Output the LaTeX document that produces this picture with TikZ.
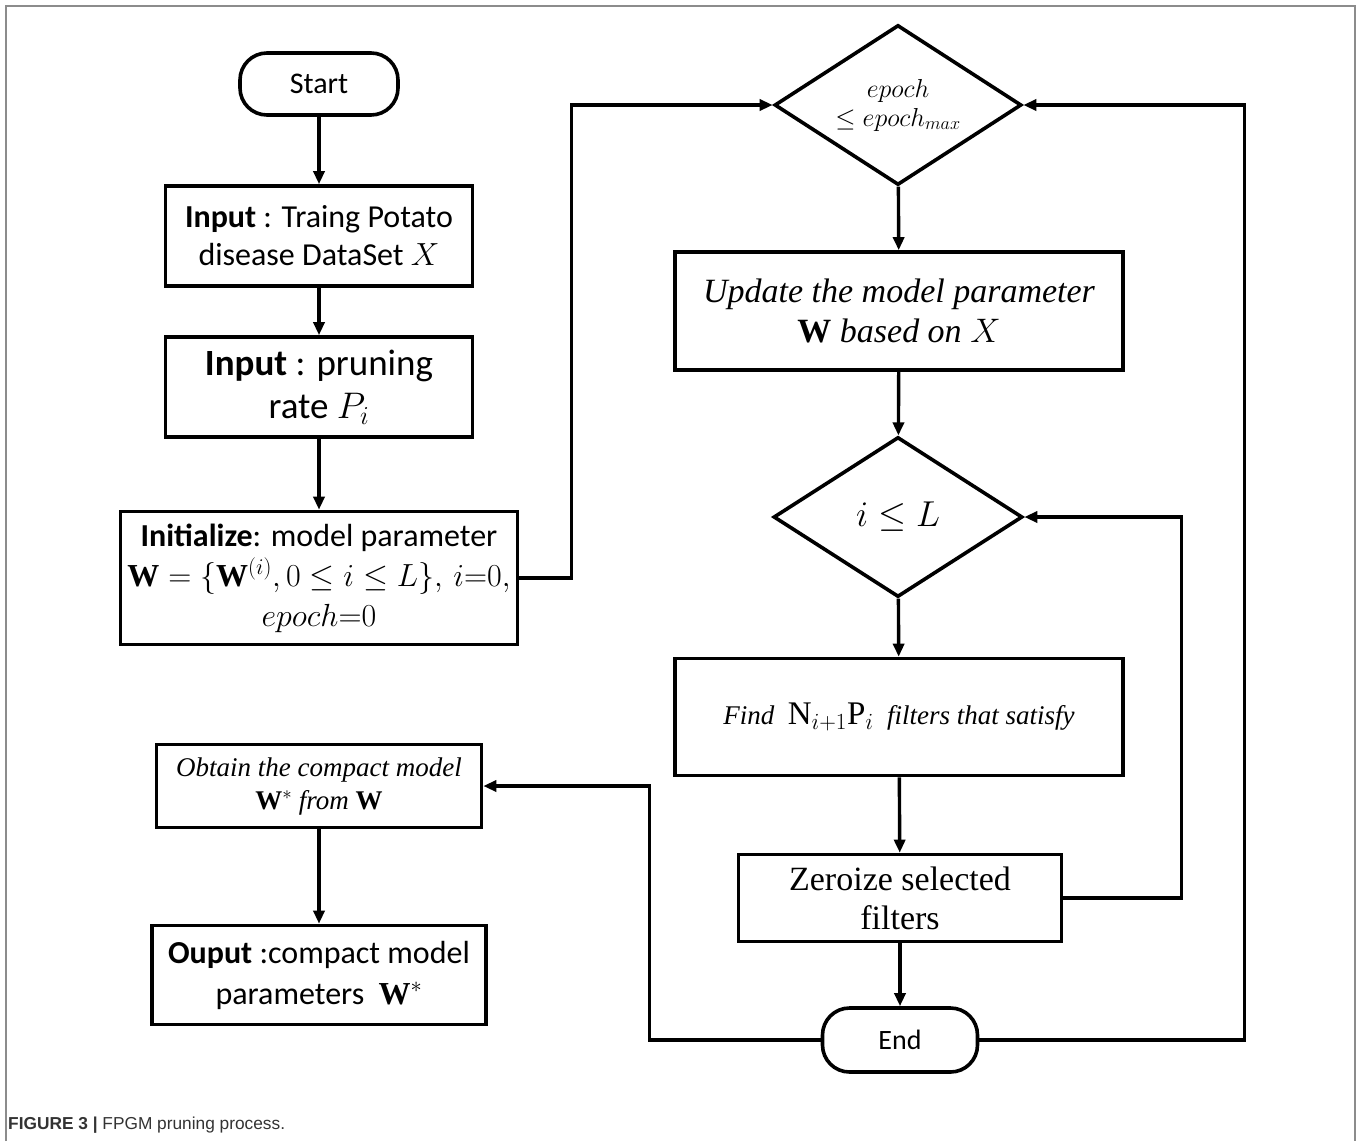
\RequirePackage{fix-cm}
\documentclass[tikz,border=0pt]{standalone}
\usepackage{fontspec}
\setmainfont{Carlito}
\setmathrm{Liberation Serif}
\newfontfamily\seriffont{Liberation Serif}
\newfontfamily\capfont{Liberation Sans}
\usetikzlibrary{arrows.meta,shapes.geometric}

\begin{document}
\begin{tikzpicture}[x=1pt,y=-1pt,
  box/.style={draw,line width=3.6pt,rectangle,align=center,inner sep=0pt},
  term/.style={draw,line width=3.6pt,rectangle,rounded corners=27pt,align=center,inner sep=0pt},
  dec/.style={draw,line width=3.6pt,diamond,aspect=1.55,align=center,inner sep=0pt},
  conn/.style={line width=3.4pt,-{Triangle[length=13pt,width=11pt]}},
  frame/.style={draw=black!45,line width=1.6pt},
]
\useasboundingbox (0,0) rectangle (1360,1141);

% outer frame of the figure
\draw[frame] (6,1141) -- (6,6) -- (1355,6) -- (1355,1141);

% left column
\node[term,minimum width=158pt,minimum height=62pt,font={\fontsize{30}{36}\selectfont}] (start) at (319,84)
  {Start};
\node[box,minimum width=307pt,minimum height=100pt,font={\fontsize{32}{38}\selectfont}] (in1) at (319,236)
  {\textbf{Input} : Traing Potato\\ disease DataSet $X$};
\node[box,minimum width=307pt,minimum height=100pt,font={\fontsize{37}{43}\selectfont}] (in2) at (319,387)
  {\textbf{Input} : pruning\\ rate $P_i$};
\node[box,minimum width=397pt,minimum height=133pt,font={\fontsize{32}{40}\selectfont}] (init) at (319,578)
  {\textbf{Initialize}: model parameter\\
   $\mathbf{W}=\{\mathbf{W}^{(i)},0\leq i\leq L\},\,i{=}0,$\\
   $epoch{=}0$};
\node[box,minimum width=325pt,minimum height=83pt,font={\seriffont\itshape\fontsize{27}{33}\selectfont}] (obt) at (319,786)
  {Obtain the compact model\\
   $\mathbf{W}^{*}$ from $\mathbf{W}$};
\node[box,minimum width=334pt,minimum height=99pt,font={\fontsize{32}{41}\selectfont}] (out) at (319,975)
  {\textbf{Ouput} :compact model\\ parameters \ $\mathbf{W}^{*}$};

% right column
\node[dec,minimum width=247pt,minimum height=160pt,font={\fontsize{26}{29}\selectfont}] (d1) at (898,105)
  {$epoch$\\ $\leq epoch_{max}$};
\node[box,minimum width=448pt,minimum height=118pt,font={\seriffont\itshape\fontsize{34}{40}\selectfont}] (upd) at (899,311)
  {Update the model parameter\\
   $\mathbf{W}$ based on $X$};
\node[dec,minimum width=249pt,minimum height=160pt,font={\fontsize{36}{40}\selectfont}] (d2) at (898,517)
  {$i\leq L$};
\node[box,minimum width=448pt,minimum height=117pt,font={\seriffont\itshape\fontsize{27}{31}\selectfont}] (find) at (899,717)
  {Find \ {\fontsize{33}{36}\selectfont$\mathrm{N}_{i+1}\mathrm{P}_{i}$} \ filters that satisfy};
\node[box,minimum width=323pt,minimum height=87pt,font={\seriffont\fontsize{34}{39}\selectfont}] (zero) at (900,898)
  {Zeroize selected\\ filters};
\node[term,minimum width=155pt,minimum height=64pt,font={\fontsize{28}{32}\selectfont}] (end) at (900,1040)
  {End};

% connectors
\draw[conn] (start) -- (in1);
\draw[conn] (in1) -- (in2);
\draw[conn] (in2) -- (init);
\draw[conn] (init.east) -- ++(52,0) |- (d1.west);
\draw[conn] (d1) -- (upd);
\draw[conn] (upd) -- (d2);
\draw[conn] (d2) -- (find);
\draw[conn] (find) -- (zero);
\draw[conn] (zero) -- (end);
\draw[conn] (zero.east) -- ++(118,0) |- (d2.east);
\draw[conn] (end.east) -- ++(265,0) |- (d1.east);
\draw[conn] (end.west) -- ++(-171,0) |- (obt.east);
\draw[conn] (obt) -- (out);

% caption
\node[anchor=base west,inner sep=0pt,text=black!80,font={\capfont\fontsize{17.3}{21}\selectfont}] (cap) at (8,1129)
  {\textbf{FIGURE 3 |} FPGM pruning process.};
\end{tikzpicture}
\end{document}
